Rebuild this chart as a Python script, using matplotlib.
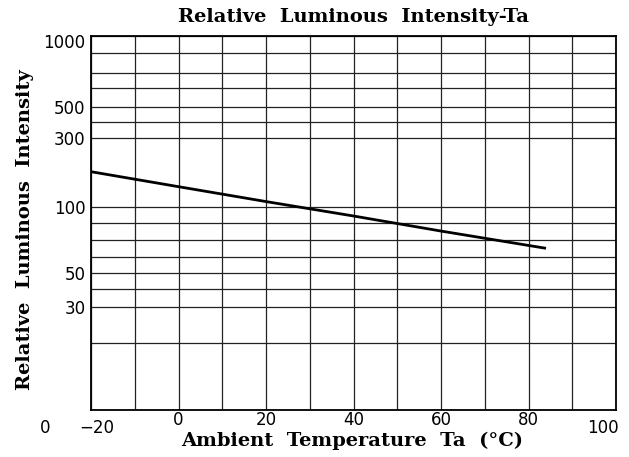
import matplotlib.pyplot as plt
import matplotlib.transforms as mtransforms
import numpy as np

# curve
temps = [-20, 0, 20, 40, 60, 84]
intensity = [175, 138, 109, 88, 75, 65]

# grid values of the (non-standard) log axis and their heights on the sheet
grid_vals = [10, 20, 30, 40, 50, 60, 70, 80, 100, 300, 400, 500, 600, 700, 800, 1000]
grid_pos = [0, 66.7, 103, 121.3, 136.7, 152.7, 170, 187.3, 203, 272.3, 288.3,
            302.7, 321.7, 337.3, 356.7, 374.3]
y_labeled = [30, 50, 100, 300, 500, 1000]

x_grid = np.arange(-20, 101, 10)
x_labeled = [-20, 0, 20, 40, 60, 80, 100]

log_vals = np.log10(grid_vals)


def fwd(v):
    v = np.clip(np.asarray(v, dtype=float), 1e-3, None)
    return np.interp(np.log10(v), log_vals, grid_pos)


def inv(p):
    return 10 ** np.interp(np.asarray(p, dtype=float), grid_pos, log_vals)


fig = plt.figure(figsize=(6.29, 4.57), dpi=100)
ax = fig.add_axes([91/629, 1-410/457, (616-91)/629, (410-35.7)/457])

ax.set_yscale('function', functions=(fwd, inv))
ax.set_ylim(10, 1000)
ax.set_xlim(-20, 100)

ax.set_yticks(grid_vals)
ax.set_yticklabels([str(v) if v in y_labeled else "" for v in grid_vals])
ax.yaxis.set_minor_locator(plt.NullLocator())
ax.set_xticks(x_grid)
ax.set_xticklabels([("\u2212%d" % -v if v < 0 else str(v)) if v in x_labeled else ""
                    for v in x_grid])

ax.tick_params(axis='both', length=0, labelsize=12)
ax.tick_params(axis='y', pad=4)
ax.tick_params(axis='x', pad=1)
ax.grid(True, color='#222222', linewidth=0.9)
for s in ax.spines.values():
    s.set_linewidth(1.3)

ax.plot(temps, intensity, color='black', linewidth=2.0, solid_capstyle='butt')

# end labels of the x axis sit lower and slightly inward
for lab, v in zip(ax.get_xticklabels(), x_grid):
    if v == -20:
        off = mtransforms.ScaledTranslation(6/100, -8/100, fig.dpi_scale_trans)
        lab.set_transform(lab.get_transform() + off)
    elif v == 100:
        off = mtransforms.ScaledTranslation(-13/100, -8/100, fig.dpi_scale_trans)
        lab.set_transform(lab.get_transform() + off)
for lab, v in zip(ax.get_yticklabels(), grid_vals):
    if v == 1000:
        off = mtransforms.ScaledTranslation(0, -5/100, fig.dpi_scale_trans)
        lab.set_transform(lab.get_transform() + off)

fig.text(45/629, 1-428/457, "0", fontsize=12, ha='center', va='center')

lab_font = dict(family='DejaVu Serif', fontweight='bold', fontsize=14)
ax.set_title("Relative  Luminous  Intensity-Ta", pad=10, **lab_font)
ax.set_xlabel("Ambient  Temperature  Ta  (\u00b0C)", va='center', **lab_font)
ax.xaxis.set_label_coords(0.497, -0.083)
ax.set_ylabel("Relative  Luminous  Intensity", va='center', **lab_font)
ax.yaxis.set_label_coords(-0.126, 0.481)

fig.savefig("out.png", dpi=100)
